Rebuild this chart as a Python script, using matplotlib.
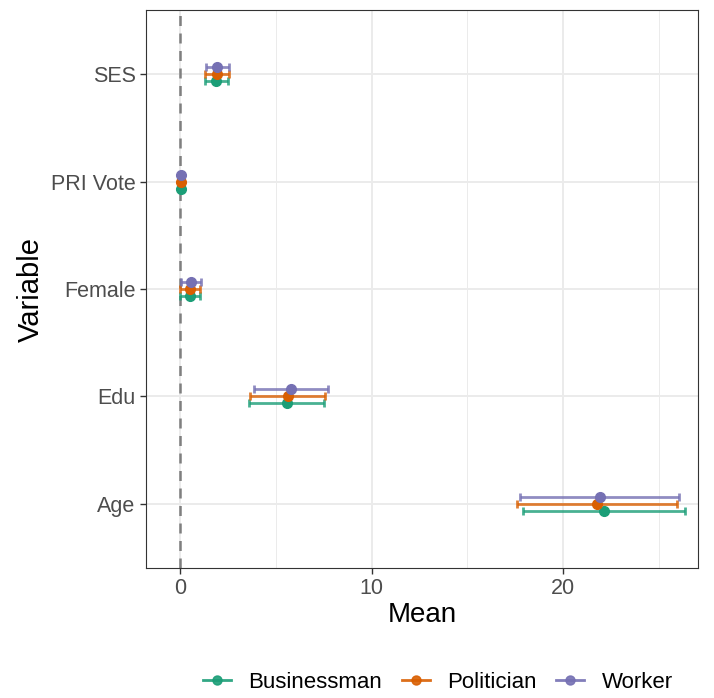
import matplotlib.pyplot as plt
from matplotlib.lines import Line2D

plt.rcParams["font.family"] = ["Liberation Sans", "DejaVu Sans"]

variables = ["Age", "Edu", "Female", "PRI Vote", "SES"]
groups = ["Businessman", "Politician", "Worker"]
colors = ["#1B9E77", "#D95F02", "#7570B3"]

# means and lower/upper interval bounds, ordered as in `variables`
means = {
    "Businessman": [22.15, 5.58, 0.52, 0.04, 1.90],
    "Politician": [21.78, 5.63, 0.53, 0.04, 1.92],
    "Worker": [21.95, 5.80, 0.55, 0.05, 1.95],
}
lower = {
    "Businessman": [17.90, 3.60, 0.02, -0.04, 1.30],
    "Politician": [17.60, 3.65, 0.02, -0.04, 1.32],
    "Worker": [17.75, 3.86, 0.04, -0.03, 1.35],
}
upper = {
    "Businessman": [26.37, 7.52, 1.05, 0.12, 2.52],
    "Politician": [25.95, 7.57, 1.06, 0.12, 2.54],
    "Worker": [26.06, 7.73, 1.08, 0.13, 2.56],
}
offsets = [-0.065, 0.0, 0.065]

fig = plt.figure(figsize=(7.14, 6.98), dpi=100)
ax = fig.add_axes([0.2045, 0.1862, 0.7731, 0.7995])

for x in [5, 15, 25]:
    ax.axvline(x, color="#EBEBEB", lw=0.7, zorder=0)
for x in [0, 10, 20]:
    ax.axvline(x, color="#EBEBEB", lw=1.4, zorder=0)
for y in range(1, len(variables) + 1):
    ax.axhline(y, color="#EBEBEB", lw=1.4, zorder=0)

ax.axvline(0, color="#7F7F7F", lw=1.8, ls=(0, (4, 3)), zorder=1)

for g, c, off in zip(groups, colors, offsets):
    ys = [i + 1 + off for i in range(len(variables))]
    m = means[g]
    xerr = [[mm - lo for mm, lo in zip(m, lower[g])],
            [hi - mm for mm, hi in zip(m, upper[g])]]
    ax.errorbar(m, ys, xerr=xerr, fmt="none", ecolor=c, elinewidth=2,
                capsize=3, capthick=2, alpha=0.8, zorder=2)
    ax.plot(m, ys, "o", color=c, ms=7, zorder=3)

ax.set_xlim(-1.78, 27.05)
ax.set_ylim(0.4, 5.6)
ax.set_xticks([0, 10, 20])
ax.set_yticks(range(1, len(variables) + 1))
ax.set_yticklabels(variables)
ax.tick_params(axis="both", labelsize=15.5, colors="#333333", labelcolor="#4D4D4D",
               length=4, width=1)
for s in ax.spines.values():
    s.set_color("#333333")
    s.set_linewidth(0.8)
ax.set_xlabel("Mean", fontsize=20, labelpad=2)
ax.set_ylabel("Variable", fontsize=21, labelpad=4)

handles = [Line2D([], [], color=c, lw=2, marker="o", ms=6.5, alpha=0.9) for c in colors]
fig.legend(handles, groups, loc="center", bbox_to_anchor=(0.613, 0.022), ncol=3,
           frameon=False, fontsize=16, handlelength=1.26, columnspacing=0.9,
           handletextpad=0.77)

fig.savefig("out.png", dpi=100)
